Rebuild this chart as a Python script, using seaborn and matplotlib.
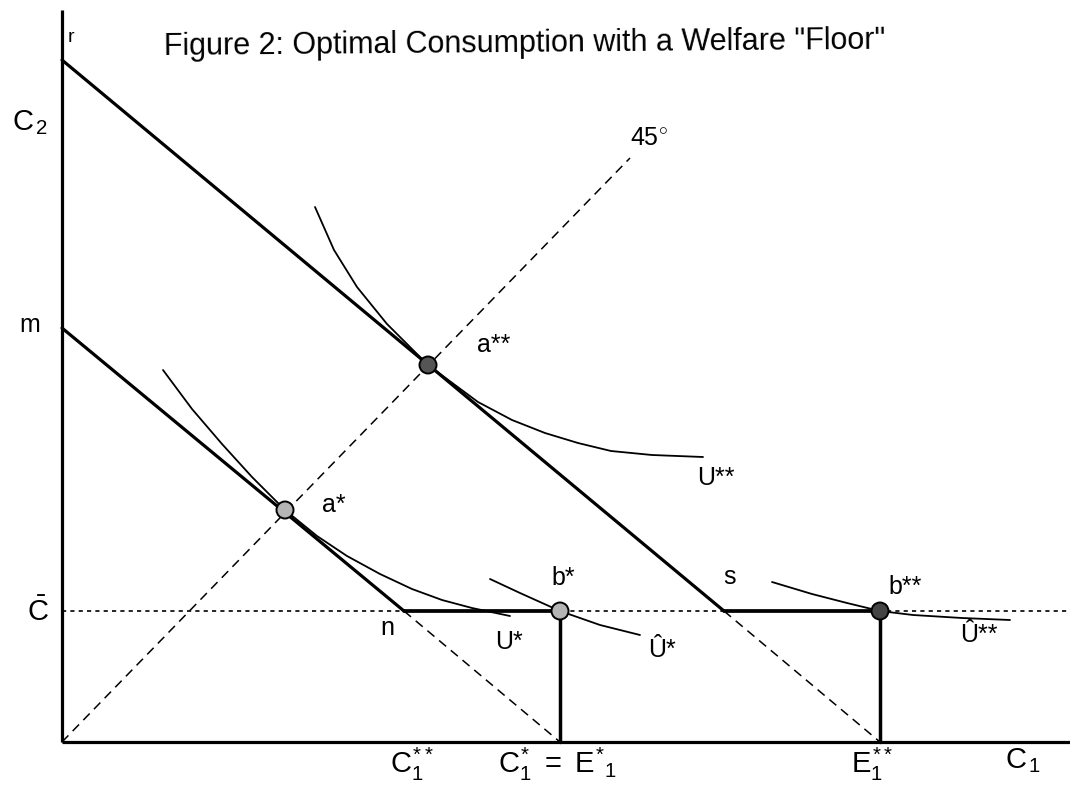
import matplotlib
matplotlib.use("Agg")
import matplotlib.pyplot as plt
import pandas as pd
import seaborn as sns

# coordinates are C1 / C2 in figure-pixel units, origin at the axes corner
C_BAR = 131

# budget lines: intercept r / m, kink s / n, endpoint on the C1 axis
upper_X = [0, 662, 818]
upper_Y = [682, C_BAR, 0]
lower_X = [0, 342, 498]
lower_Y = [414, C_BAR, 0]

line45_X = [0, 568]
line45_Y = [0, 584]

# indifference curves
u2_X = [253, 272, 295, 325, 366, 416, 450, 483, 516, 549, 590, 641]
u2_Y = [535, 492, 455, 418, 377, 340, 322, 309, 299, 291, 287, 285]
u1_X = [101, 130, 160, 190, 223, 255, 285, 318, 350, 380, 410, 448]
u1_Y = [372, 333, 298, 265, 232, 206, 186, 168, 153, 142, 134, 126]
uh1_X = [428, 458, 498, 538, 578]
uh1_Y = [163, 149, 131, 117, 107]
uh2_X = [710, 750, 785, 818, 851, 900, 948]
uh2_Y = [160, 148, 139, 131, 127, 124, 122]

# equilibrium points
pt_names = ["a**", "a*", "b*", "b**"]
pt_X = [366, 223, 498, 818]
pt_Y = [377, 232, C_BAR, C_BAR]

sns.set_theme(style="white")
plt.rcParams["font.family"] = ["Liberation Sans", "DejaVu Sans"]
plt.rcParams["text.color"] = "black"
plt.rcParams["mathtext.fontset"] = "custom"
plt.rcParams["mathtext.rm"] = "Liberation Sans"
plt.rcParams["mathtext.it"] = "Liberation Sans"
plt.rcParams["mathtext.bf"] = "Liberation Sans:bold"

fig = plt.figure(figsize=(10.7, 7.94), dpi=100)
ax = fig.add_axes([0, 0, 1, 1])
ax.set_xlim(-62, 1008)
ax.set_ylim(-52, 742)
ax.axis("off")

k = "black"
# axes
ax.plot([0, 0], [0, 732], color=k, lw=2.3, solid_capstyle="butt")
ax.plot([0, 1008], [0, 0], color=k, lw=2.3, solid_capstyle="butt")

# welfare floor (dotted) and 45 degree line
ax.plot([0, 1008], [C_BAR, C_BAR], color=k, lw=1.2, ls=(0, (2.5, 2.5)))
ax.plot(line45_X, line45_Y, color=k, lw=1.1, ls=(0, (6, 4)))

# budget lines: solid part to the kink, dashed continuation
ax.plot(upper_X[:2], upper_Y[:2], color=k, lw=2.3)
ax.plot(upper_X[1:], upper_Y[1:], color=k, lw=1.1, ls=(0, (6, 4)))
ax.plot(lower_X[:2], lower_Y[:2], color=k, lw=2.3)
ax.plot(lower_X[1:], lower_Y[1:], color=k, lw=1.1, ls=(0, (6, 4)))

# floor segments and verticals
ax.plot([lower_X[1], pt_X[2]], [C_BAR, C_BAR], color=k, lw=2.7)
ax.plot([upper_X[1], pt_X[3]], [C_BAR, C_BAR], color=k, lw=2.7)
ax.plot([pt_X[2], pt_X[2]], [0, C_BAR], color=k, lw=2.5)
ax.plot([pt_X[3], pt_X[3]], [0, C_BAR], color=k, lw=2.5)

# indifference curves
for cx, cy in [(u2_X, u2_Y), (u1_X, u1_Y), (uh1_X, uh1_Y), (uh2_X, uh2_Y)]:
    sns.lineplot(x=cx, y=cy, ax=ax, color=k, lw=1.3, sort=False, estimator=None)

pts = pd.DataFrame({"x": pt_X, "y": pt_Y, "name": pt_names})
sns.scatterplot(data=pts, x="x", y="y", hue="name", ax=ax, s=150,
                palette={"a**": "#555555", "a*": "#b5b5b5", "b*": "#b5b5b5", "b**": "#444444"},
                edgecolor=k, linewidth=1.4, legend=False, zorder=5)
ax.set_xlabel("")
ax.set_ylabel("")

fs = 18
ax.text(463, 687, 'Figure 2: Optimal Consumption with a Welfare "Floor"',
        ha="center", va="baseline", fontsize=22, rotation=0.5)
ax.text(6, 705, "r", ha="left", va="center", fontsize=14)
ax.text(-32, 417, "m", ha="center", va="center", fontsize=fs)
ax.text(-50, 612, r"$C_{\,2}$", ha="left", va="baseline", fontsize=21)
ax.text(-24, 130, r"$\bar{C}$", ha="center", va="center", fontsize=21)
ax.text(568, 597, r"$45^{\circ}$", ha="left", va="baseline", fontsize=fs)
ax.text(415, 397, "a**", ha="left", va="center", fontsize=fs)
ax.text(260, 237, "a*", ha="left", va="center", fontsize=fs)
ax.text(635, 264, "U**", ha="left", va="center", fontsize=fs)
ax.text(433, 100, "U*", ha="left", va="center", fontsize=fs)
ax.text(325, 114, "n", ha="center", va="center", fontsize=fs)
ax.text(501, 164, "b*", ha="center", va="center", fontsize=fs)
ax.text(668, 165, "s", ha="center", va="center", fontsize=fs)
ax.text(826, 155, "b**", ha="left", va="center", fontsize=fs)
ax.text(586, 92, "Û*", ha="left", va="center", fontsize=fs)
ax.text(898, 107, "Û**", ha="left", va="center", fontsize=fs)

ax.text(350, -4, r"$C_1^{**}$", ha="center", va="top", fontsize=21)
ax.text(436, -4, r"$C_1^{*}\ =\ E^{*}{}_{1}$", ha="left", va="top", fontsize=21)
ax.text(810, -4, r"$E_1^{**}$", ha="center", va="top", fontsize=21)
ax.text(943, -4, r"$C_{\,1}$", ha="left", va="top", fontsize=21)

fig.savefig("out.png", dpi=100)
